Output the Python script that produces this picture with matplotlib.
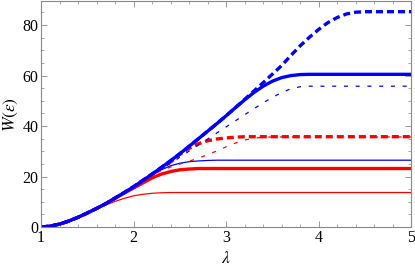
import numpy as np
import matplotlib.pyplot as plt
from matplotlib.ticker import MultipleLocator

plt.rcParams['font.family'] = ['Liberation Serif', 'DejaVu Serif']
plt.rcParams['mathtext.fontset'] = 'stix'

# lambda grid, 1.0 .. 5.0 in steps of 0.1
lam = [1.0, 1.1, 1.2, 1.3, 1.4, 1.5, 1.6, 1.7, 1.8, 1.9,
       2.0, 2.1, 2.2, 2.3, 2.4, 2.5, 2.6, 2.7, 2.8, 2.9,
       3.0, 3.1, 3.2, 3.3, 3.4, 3.5, 3.6, 3.7, 3.8, 3.9,
       4.0, 4.1, 4.2, 4.3, 4.4, 4.5, 4.6, 4.7, 4.8, 4.9, 5.0]

# common rising part
base = [0.0, 0.4, 1.2, 2.4, 3.9, 5.6, 7.4, 9.3, 11.5, 13.7,
        16.0, 18.5, 21.0, 23.6, 26.3, 29.1, 32.0, 35.0, 38.0, 41.0,
        44.1, 47.3, 50.6, 53.9, 57.2, 60.6, 64.0]

blue_thick_dash = base[:27] + [68.0, 71.8, 75.2, 78.3, 81.0, 83.0, 84.4, 85.1,
                               85.3, 85.3, 85.3, 85.3, 85.3, 85.3]
blue_thick_solid = base[:22] + [50.4, 53.3, 55.8, 57.8, 59.2, 60.0, 60.4, 60.5,
                                60.5, 60.5, 60.5, 60.5, 60.5, 60.5, 60.5,
                                60.5, 60.5, 60.5, 60.5]
blue_thin_dash = base[:12] + [20.8, 23.0, 25.3, 27.7, 30.1, 32.5, 34.9, 37.3,
                              39.7, 42.1, 44.5, 46.9, 49.2, 51.4, 53.3, 54.8,
                              55.6, 55.8, 55.8, 55.8, 55.8, 55.8, 55.8, 55.8,
                              55.8, 55.8, 55.8, 55.8, 55.8]
red_thick_dash = base[:14] + [25.8, 28.8, 31.2, 33.0, 34.2, 34.9, 35.3, 35.6,
                              35.8, 35.8, 35.8, 35.8, 35.8, 35.8, 35.8, 35.8,
                              35.8, 35.8, 35.8, 35.8, 35.8, 35.8, 35.8, 35.8,
                              35.8, 35.8, 35.8]
red_thin_dash = base[:12] + [20.6, 22.4, 23.8, 25.0, 26.1, 27.3, 28.7,
                             30.2, 31.8, 33.3, 34.5, 35.2, 35.6, 35.7, 35.7,
                             35.7, 35.7, 35.7, 35.7, 35.7, 35.7, 35.7, 35.7,
                             35.7, 35.7, 35.7, 35.7, 35.7, 35.7]
blue_thin_solid = base[:11] + [18.3, 20.6, 22.7, 24.3, 25.3, 25.9, 26.2, 26.4,
                               26.5, 26.5, 26.5, 26.5, 26.5, 26.5, 26.5, 26.5,
                               26.5, 26.5, 26.5, 26.5, 26.5, 26.5, 26.5, 26.5,
                               26.5, 26.5, 26.5, 26.5, 26.5, 26.5]
red_thick_solid = base[:9] + [13.5, 15.5, 17.5, 19.5, 21.0, 22.0, 22.7, 23.0,
                              23.2, 23.2, 23.2, 23.2, 23.2, 23.2, 23.2, 23.2,
                              23.2, 23.2, 23.2, 23.2, 23.2, 23.2, 23.2, 23.2,
                              23.2, 23.2, 23.2, 23.2, 23.2, 23.2, 23.2, 23.2]
red_thin_solid = base[:6] + [7.2, 8.8, 10.2, 11.4, 12.4, 13.0, 13.4, 13.6,
                             13.7, 13.7, 13.7, 13.7, 13.7, 13.7, 13.7, 13.7,
                             13.7, 13.7, 13.7, 13.7, 13.7, 13.7, 13.7, 13.7,
                             13.7, 13.7, 13.7, 13.7, 13.7, 13.7, 13.7, 13.7,
                             13.7, 13.7, 13.7]

fig = plt.figure(figsize=(4.15, 2.72), dpi=100)
ax = fig.add_axes([0.099, 0.165, 0.892, 0.831])

thick = 2.4
thin = 0.9
ax.plot(lam, red_thin_solid, color='red', lw=thin)
ax.plot(lam, red_thick_solid, color='red', lw=thick)
ax.plot(lam, blue_thin_solid, color='blue', lw=thin)
ax.plot(lam, red_thin_dash, color='red', lw=thin, dashes=(3.2, 6.2))
ax.plot(lam, red_thick_dash, color='red', lw=thick, dashes=(2.1, 1.2))
ax.plot(lam, blue_thin_dash, color='blue', lw=thin, dashes=(3.2, 6.2))
ax.plot(lam, blue_thick_solid, color='blue', lw=thick)
ax.plot(lam, blue_thick_dash, color='blue', lw=thick, dashes=(2.1, 1.2))

ax.set_xlim(1, 5)
ax.set_ylim(0, 89.5)
ax.xaxis.set_major_locator(MultipleLocator(1))
ax.xaxis.set_minor_locator(MultipleLocator(0.2))
ax.yaxis.set_major_locator(MultipleLocator(20))
ax.yaxis.set_minor_locator(MultipleLocator(5))
ax.tick_params(which='both', direction='in', top=True, right=True,
               color='#888888', labelsize=11.5, pad=2)
ax.tick_params(which='major', length=4, width=0.6)
ax.tick_params(which='minor', length=2.2, width=0.5)
for s in ax.spines.values():
    s.set_color('#888888')
    s.set_linewidth(0.8)

ax.set_xlabel(r'$\lambda$', fontsize=12.5, labelpad=4)
ax.set_ylabel(r'$W(\epsilon)$', fontsize=12.5, labelpad=2)

fig.savefig('out.png', dpi=100)
